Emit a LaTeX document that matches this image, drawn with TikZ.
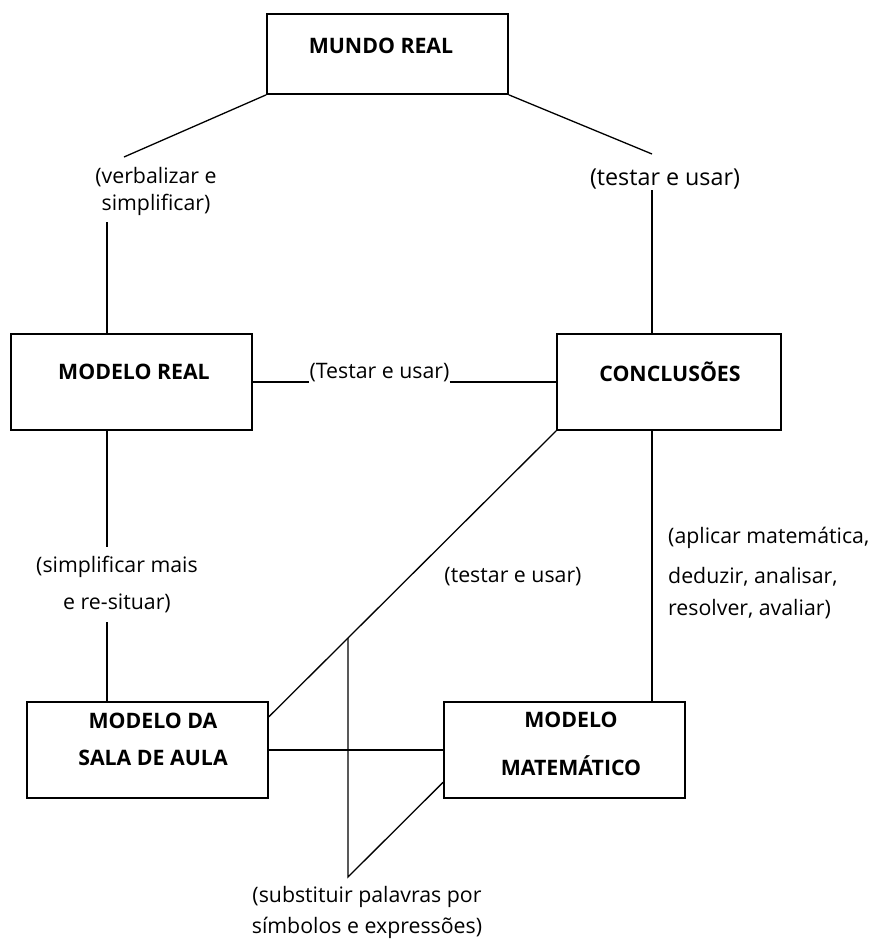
\documentclass[tikz,border=0pt]{standalone}
\usepackage{fontspec}
\setmainfont{Open Sans}
\usetikzlibrary{calc}

\tikzset{
  caixa/.style={draw, line width=1.7pt, minimum width=241pt, minimum height=96pt, inner sep=0pt},
  titulo/.style={font=\bfseries\fontsize{21.3}{37}\selectfont, align=center, inner sep=0pt},
  rotulo/.style={font=\fontsize{21.3}{31}\selectfont, align=center, inner sep=0pt},
  liga/.style={line width=1.3pt},
}

\begin{document}
\begin{tikzpicture}[x=1pt,y=-1pt]
  \useasboundingbox (0,0) rectangle (871,940);
  % caixas
  \node[caixa, minimum height=80pt] (mundo) at (387.5,54) {};
  \node[titulo] (mundoT) at (381,46) {MUNDO REAL};
  \node[caixa] (mreal) at (131.5,382) {};
  \node[titulo] (mrealT) at (134,372) {MODELO REAL};
  \node[caixa, minimum width=224pt] (concl) at (669,382) {};
  \node[titulo] (conclT) at (670,372) {CONCLUSÕES};
  \node[caixa] (sala) at (147.5,750) {};
  \node[titulo] (salaT) at (153,739) {MODELO DA\\SALA DE AULA};
  \node[caixa] (mmat) at (564.5,750) {};
  \node[titulo] (mmatT) at (571,744) {MODELO\\[11pt]MATEMÁTICO};
  % rotulos
  \node[rotulo] (verb) at (156,191) {(verbalizar e\\[-4pt]simplificar)};
  \node[rotulo, font=\fontsize{23.3}{30}\selectfont] (tusa1) at (665,179) {(testar e usar)};
  \node[rotulo, anchor=south] (tusa2) at (379.5,382) {(Testar e usar)};
  \node[rotulo] (simp) at (117,585) {(simplificar mais\\[6pt]e re-situar)};
  \node[rotulo] (tusa3) at (513,577) {(testar e usar)};
  \node[rotulo, align=left, anchor=west] (aplic) at (668,573)
    {(aplicar matemática,\\[9pt]deduzir, analisar,\\[1pt]resolver, avaliar)};
  \node[rotulo] (subst) at (367,912) {(substituir palavras por\\símbolos e expressões)};
  % ligacoes
  \coordinate (a0) at (124,157);
  \coordinate (b0) at (652,154);
  \draw[liga] (mundo.south west) -- (a0);
  \draw[liga] (mundo.south east) -- (b0);
  \coordinate (a1) at (107,222);
  \coordinate (a2) at (107,547);
  \coordinate (a3) at (107,622);
  \coordinate (b1) at (652,190);
  \draw[liga] (a1) -- (a1 |- mreal.north);
  \draw[liga] (b1) -- (b1 |- concl.north);
  \draw[liga] (mreal.east) -- (tusa2.south west);
  \draw[liga] (tusa2.south east) -- (concl.west);
  \draw[liga] (a2 |- mreal.south) -- (a2);
  \draw[liga] (a3) -- (a3 |- sala.north);
  \draw[liga] (b1 |- concl.south) -- (b1 |- mmat.north);
  \draw[liga] (concl.south west) -- ($(sala.north east)!0.16!(sala.south east)$);
  \draw[liga] (sala.east) -- (mmat.west);
  % substituir
  \coordinate (c1) at (348,638);
  \coordinate (c2) at (348,877);
  \draw[liga] (c1) -- (c2) -- ($(mmat.north west)!0.83!(mmat.south west)$);
\end{tikzpicture}
\end{document}
